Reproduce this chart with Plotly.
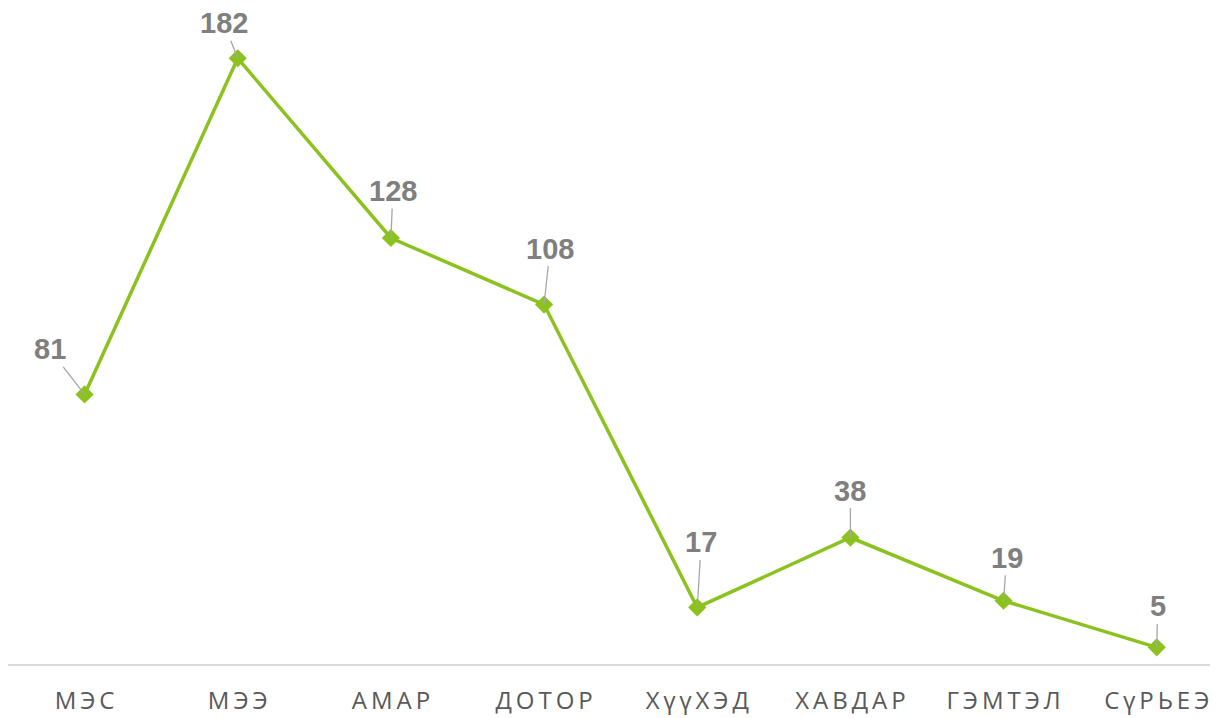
import plotly.graph_objects as go

categories = ["МЭС", "МЭЭ", "АМАР", "ДОТОР", "ХүүХЭД", "ХАВДАР", "ГЭМТЭЛ", "СүРЬЕЭ"]
values = [81, 182, 128, 108, 17, 38, 19, 5]
label_dx = [-35, -14, 2, 6, 4, 0, 3, 1]
label_dy = [-45, -35, -47, -56, -65, -47, -43, -41]

ticktext = ["\u2009".join(c) for c in categories]

fig = go.Figure()
fig.add_trace(go.Scatter(
    x=list(range(len(categories))), y=values, mode="lines+markers",
    line=dict(color="#8cc21f", width=3.5),
    marker=dict(symbol="diamond", size=14, color="#8cc21f"),
    hoverinfo="skip", showlegend=False,
))

for i, v in enumerate(values):
    fig.add_annotation(
        x=i, y=v, text=str(v), showarrow=True, arrowhead=0, arrowwidth=1.3,
        arrowcolor="#a6a6a6", ax=label_dx[i], ay=label_dy[i], standoff=0,
        font=dict(family="Liberation Sans, Arial", size=29, color="#7f7f7f", weight="bold"),
    )

fig.update_layout(
    width=1210, height=710, margin=dict(l=0, r=0, t=0, b=54),
    plot_bgcolor="white", paper_bgcolor="white",
    xaxis=dict(range=[-0.5, 7.4], tickmode="array", tickvals=list(range(len(categories))),
               ticktext=ticktext, showgrid=False, zeroline=False, showline=True,
               linecolor="#d9d9d9", linewidth=1.5, ticks="", ticklabelstandoff=14,
               tickfont=dict(family="Open Sans", size=24, color="#595959")),
    yaxis=dict(range=[0, 197.1], visible=False, showgrid=False, zeroline=False),
)

fig.write_html("out.html")
